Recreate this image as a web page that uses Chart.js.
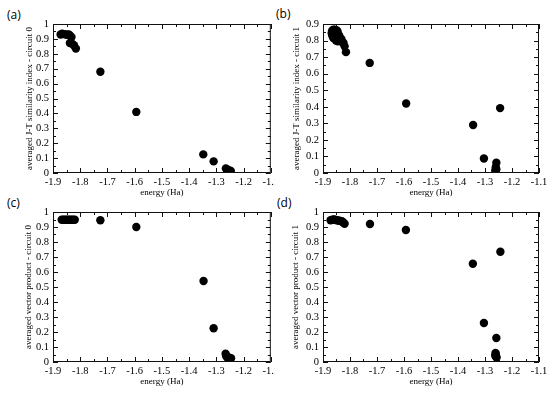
<!DOCTYPE html>
<html>
<head>
<meta charset="utf-8">
<script src="https://cdn.jsdelivr.net/npm/chart.js@4.4.0/dist/chart.umd.min.js"></script>
<style>
  body { margin: 0; background: #fff; }
  #wrap { position: relative; width: 550px; height: 393px; overflow: hidden; }
  canvas, .lbl { position: absolute; }
  .lbl { font-family: 'Open Sans', sans-serif; font-size: 12px; line-height: 12px; color: #000; }
</style>
</head>
<body>
<div id="wrap">
  <div class="lbl" style="left:7px;top:9px">(a)</div>
  <div class="lbl" style="left:276px;top:8px">(b)</div>
  <div class="lbl" style="left:7px;top:197px">(c)</div>
  <div class="lbl" style="left:277px;top:197px">(d)</div>
  <canvas id="chartA" width="275" height="200" style="left:0;top:0"></canvas>
  <canvas id="chartB" width="275" height="200" style="left:275px;top:0"></canvas>
  <canvas id="chartC" width="275" height="197" style="left:0;top:196px"></canvas>
  <canvas id="chartD" width="275" height="197" style="left:275px;top:196px"></canvas>
</div>
<script>
// tick labels
const xTickValues = [-1.9, -1.8, -1.7, -1.6, -1.5, -1.4, -1.3, -1.2, -1.1]
const xTickLabels = ['-1.9', '-1.8', '-1.7', '-1.6', '-1.5', '-1.4', '-1.3', '-1.2', '-1.1']
const yTickValues = [0, 0.1, 0.2, 0.3, 0.4, 0.5, 0.6, 0.7, 0.8, 0.9, 1]
const yTickLabels = ['0', '0.1', '0.2', '0.3', '0.4', '0.5', '0.6', '0.7', '0.8', '0.9', '1']

// (a) averaged J-T similarity index - circuit 0
const energyA = [-1.872, -1.866, -1.86, -1.853, -1.847, -1.842, -1.837, -1.832, -1.838, -1.83, -1.823, -1.816,
    -1.726, -1.594, -1.348, -1.31, -1.265, -1.26, -1.256, -1.251, -1.247]
const simA = [0.93, 0.935, 0.932, 0.93, 0.928, 0.93, 0.922, 0.912, 0.872, 0.868, 0.858, 0.835,
    0.68, 0.41, 0.125, 0.078, 0.03, 0.022, 0.02, 0.016, 0.014]

// (b) averaged J-T similarity index - circuit 1
const energyB = [-1.868, -1.866, -1.862, -1.856, -1.85, -1.846, -1.866, -1.86, -1.855, -1.85, -1.845, -1.84,
    -1.862, -1.852, -1.845, -1.838, -1.832, -1.828, -1.824, -1.82, -1.815,
    -1.727, -1.592, -1.344, -1.304, -1.244, -1.258, -1.26, -1.258, -1.262]
const simB = [0.845, 0.86, 0.865, 0.866, 0.862, 0.855, 0.83, 0.84, 0.82, 0.835, 0.815, 0.83,
    0.815, 0.8, 0.795, 0.8, 0.81, 0.79, 0.785, 0.765, 0.73,
    0.665, 0.42, 0.29, 0.088, 0.392, 0.062, 0.035, 0.022, 0.015]

// (c) averaged vector product - circuit 0
const energyC = [-1.868, -1.862, -1.856, -1.85, -1.844, -1.838, -1.832, -1.826, -1.82,
    -1.726, -1.594, -1.347, -1.31, -1.266, -1.264, -1.26, -1.256, -1.252, -1.246]
const vecC = [0.948, 0.948, 0.948, 0.948, 0.948, 0.948, 0.948, 0.948, 0.948,
    0.945, 0.9, 0.54, 0.225, 0.055, 0.04, 0.03, 0.03, 0.028, 0.025]

// (d) averaged vector product - circuit 1
const energyD = [-1.872, -1.866, -1.86, -1.855, -1.85, -1.845, -1.84, -1.835, -1.83, -1.825, -1.82,
    -1.726, -1.593, -1.345, -1.304, -1.243, -1.258, -1.261, -1.26, -1.262, -1.259, -1.257]
const vecD = [0.945, 0.948, 0.95, 0.948, 0.945, 0.944, 0.942, 0.94, 0.938, 0.93, 0.922,
    0.92, 0.88, 0.655, 0.26, 0.735, 0.16, 0.06, 0.05, 0.042, 0.035, 0.03]

Chart.defaults.color = '#000'
const serif = "'Liberation Serif', 'Times New Roman', serif"

// box with inward ticks on all four sides
const frame = {
    id: 'frame',
    afterDatasetsDraw(chart) {
        const ctx = chart.ctx
        const a = chart.chartArea
        ctx.save()
        ctx.strokeStyle = '#111'
        ctx.lineWidth = 1
        ctx.strokeRect(a.left + 0.5, a.top + 0.5, a.right - a.left - 1, a.bottom - a.top - 1)
        ctx.beginPath()
        const mark = (isX, px, len) => {
            const q = Math.round(px) + 0.5
            if (isX) {
                ctx.moveTo(q, a.bottom); ctx.lineTo(q, a.bottom - len)
                ctx.moveTo(q, a.top); ctx.lineTo(q, a.top + len)
            } else {
                ctx.moveTo(a.left, q); ctx.lineTo(a.left + len, q)
                ctx.moveTo(a.right, q); ctx.lineTo(a.right - len, q)
            }
        }
        const axisTicks = (scale, vals, isX) => {
            vals.forEach((v, i) => {
                mark(isX, scale.getPixelForValue(v), 5)
                if (i < vals.length - 1) mark(isX, scale.getPixelForValue((v + vals[i + 1]) / 2), 3)
            })
        }
        const sy = chart.scales.y
        axisTicks(chart.scales.x, xTickValues, true)
        axisTicks(sy, yTickValues.filter(v => v <= sy.max + 1e-9), false)
        ctx.stroke()
        ctx.restore()
    }
}

const makeChart = (id, xs, ys, yTitle, yMax, p) => {
    const yVals = yTickValues.filter(v => v <= yMax + 1e-9)
    new Chart(document.getElementById(id), {
        type: 'scatter',
        data: {
            datasets: [{
                data: xs.map((v, i) => ({ x: v, y: ys[i] })),
                pointRadius: 4.2,
                pointBackgroundColor: '#000',
                pointBorderColor: '#000',
                pointBorderWidth: 0
            }]
        },
        options: {
            responsive: false,
            animation: false,
            layout: { padding: { left: 0, top: p.top, right: p.right, bottom: 0 } },
            plugins: { legend: { display: false }, tooltip: { enabled: false } },
            scales: {
                x: {
                    type: 'linear', min: -1.9, max: -1.1,
                    afterBuildTicks: s => { s.ticks = xTickValues.map(v => ({ value: v })) },
                    afterFit: s => { s.height = p.xh; s.paddingLeft = 0; s.paddingRight = 0 },
                    grid: { display: false, drawTicks: false }, border: { display: false },
                    ticks: { padding: 3, autoSkip: false, maxRotation: 0, font: { family: serif, size: 10.5 },
                        callback: (v, i) => xTickLabels[i] },
                    title: { display: true, text: 'energy (Ha)', font: { family: serif, size: 9 },
                        padding: { top: 0, bottom: p.xtb } }
                },
                y: {
                    type: 'linear', min: 0, max: yMax,
                    afterBuildTicks: s => { s.ticks = yVals.map(v => ({ value: v })) },
                    afterFit: s => { s.width = p.yw; s.paddingTop = 0; s.paddingBottom = 0 },
                    grid: { display: false, drawTicks: false }, border: { display: false },
                    ticks: { padding: 4, autoSkip: false, font: { family: serif, size: 10.5 },
                        callback: (v, i) => yTickLabels[i] },
                    title: { display: true, text: yTitle, font: { family: serif, size: 9 },
                        padding: { top: p.ytp, bottom: 0 } }
                }
            }
        },
        plugins: [frame]
    })
}

makeChart('chartA', energyA, simA, 'averaged J-T similarity index - circuit 0', 1,
    { top: 24, right: 3, yw: 53, xh: 27, xtb: 2, ytp: 24 })
makeChart('chartB', energyB, simB, 'averaged J-T similarity index - circuit 1', 0.9,
    { top: 24, right: 11, yw: 48, xh: 27, xtb: 2, ytp: 16 })
makeChart('chartC', energyC, vecC, 'averaged vector product - circuit 0', 1,
    { top: 16, right: 3, yw: 53, xh: 31, xtb: 6, ytp: 23 })
makeChart('chartD', energyD, vecD, 'averaged vector product - circuit 1', 1,
    { top: 16, right: 11, yw: 48, xh: 31, xtb: 6, ytp: 15 })
</script>
</body>
</html>
